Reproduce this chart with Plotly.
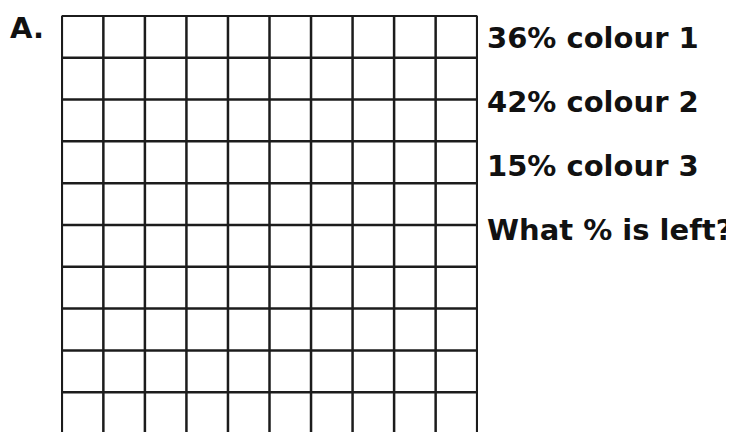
import plotly.graph_objects as go

# ---- data ----
n_rows = 10
n_cols = 10
percents = [36, 42, 15]
colour_names = ["colour 1", "colour 2", "colour 3"]
question = "What % is left?"
part_label = "A."

# ---- grid lines built from the grid size ----
xs, ys = [], []
for c in range(n_cols + 1):
    xs += [c, c, None]
    ys += [0, n_rows, None]
for r in range(n_rows + 1):
    xs += [0, n_cols, None]
    ys += [r, r, None]

fig = go.Figure()
fig.add_trace(go.Scatter(x=xs, y=ys, mode="lines",
                         line=dict(color="#1c1c1c", width=2.5),
                         hoverinfo="skip", showlegend=False))

font = dict(family="DejaVu Sans", size=29, color="#111111", weight="bold")

labels = [f"{p}% {name}" for p, name in zip(percents, colour_names)] + [question]
y_pos = [0.945, 0.791, 0.638, 0.484]
for txt, yp in zip(labels, y_pos):
    fig.add_annotation(text=txt, xref="paper", yref="paper", x=1.017, y=yp,
                       xanchor="left", yanchor="middle", showarrow=False, font=font)

fig.add_annotation(text=part_label, xref="paper", yref="paper", x=-0.128, y=0.969,
                   xanchor="left", yanchor="middle", showarrow=False, font=font)

fig.update_layout(
    width=726, height=424,
    margin=dict(l=53, r=256, t=7, b=0),
    paper_bgcolor="white", plot_bgcolor="white",
    xaxis=dict(range=[-0.02, n_cols + 0.02], visible=False, fixedrange=True),
    yaxis=dict(range=[0.05, n_rows + 0.02], visible=False, fixedrange=True),
)
fig.write_html("out.html")
